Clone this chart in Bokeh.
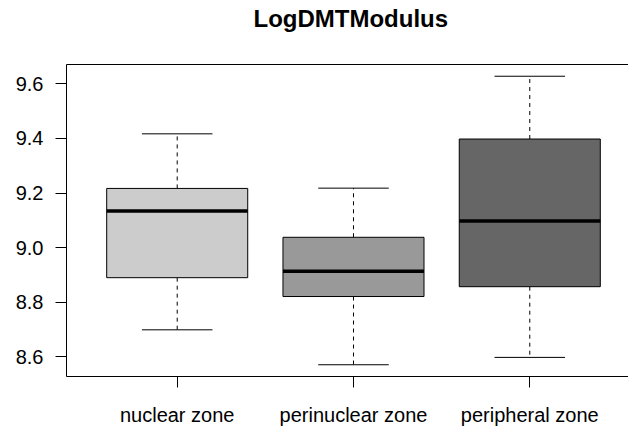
from bokeh.plotting import figure
from bokeh.models import ColumnDataSource, LinearAxis, FixedTicker, Range1d, Title, PrintfTickFormatter
from bokeh.embed import file_html
from bokeh.resources import INLINE

# ---- data ----
categories = ["nuclear zone", "perinuclear zone", "peripheral zone"]
positions = [1, 2, 3]
lower_whisker = [8.699, 8.571, 8.598]
q1 = [8.890, 8.821, 8.857]
median = [9.134, 8.914, 9.098]
q3 = [9.217, 9.038, 9.398]
upper_whisker = [9.417, 9.218, 9.628]
fill_colors = ["#CCCCCC", "#999999", "#666666"]
y_ticks = [8.6, 8.8, 9.0, 9.2, 9.4, 9.6]
title_text = "LogDMTModulus"

BOX_HALF = 0.4
CAP_HALF = 0.2
FONT = "Liberation Sans"

src = ColumnDataSource(dict(
    x=positions,
    left=[x - BOX_HALF for x in positions],
    right=[x + BOX_HALF for x in positions],
    cap_l=[x - CAP_HALF for x in positions],
    cap_r=[x + CAP_HALF for x in positions],
    lo=lower_whisker, q1=q1, med=median, q3=q3, hi=upper_whisker,
    color=fill_colors,
))

p = figure(width=628, height=428,
           x_range=Range1d(0.372, 3.560), y_range=Range1d(8.528, 9.671),
           output_backend="svg", toolbar_location=None,
           x_axis_type=None, y_axis_type=None,
           min_border_left=66, min_border_right=0,
           min_border_top=64, min_border_bottom=52)
p.outline_line_color = None
p.background_fill_color = "white"
p.border_fill_color = "white"

def style_axis(ax):
    ax.axis_line_color = "black"
    ax.axis_line_width = 1
    ax.major_tick_line_color = "black"
    ax.major_tick_in = 0
    ax.major_tick_out = 11
    ax.minor_tick_in = 0
    ax.minor_tick_out = 0
    ax.major_label_text_font = FONT
    ax.major_label_text_font_size = "20px"
    ax.major_label_text_color = "black"

xaxis = LinearAxis(ticker=FixedTicker(ticks=positions),
                   major_label_overrides={pos: cat for pos, cat in zip(positions, categories)})
style_axis(xaxis)
xaxis.major_label_standoff = 16
p.add_layout(xaxis, "below")

yaxis = LinearAxis(ticker=FixedTicker(ticks=y_ticks), formatter=PrintfTickFormatter(format="%.1f"))
style_axis(yaxis)
yaxis.major_label_standoff = 12
p.add_layout(yaxis, "left")

# top border (no ticks); an invisible blank axis label gives the gap below the title
top = LinearAxis(ticker=FixedTicker(ticks=[]))
top.axis_line_color = "black"
top.major_tick_out = 0
top.major_tick_in = 0
top.minor_tick_out = 0
top.major_label_text_font_size = "0px"
top.major_label_standoff = 0
top.axis_label = " "
top.axis_label_standoff = 19
top.axis_label_text_font_size = "10px"
top.axis_label_text_alpha = 0
p.add_layout(top, "above")

p.title = Title(text=title_text, align="left", offset=187, standoff=0,
                text_font=FONT, text_font_size="24px", text_font_style="bold",
                text_color="black")

# whiskers
p.segment(x0="x", y0="q3", x1="x", y1="hi", source=src, line_color="black", line_width=1, line_dash="4 4")
p.segment(x0="x", y0="q1", x1="x", y1="lo", source=src, line_color="black", line_width=1, line_dash="4 4")
# caps
p.segment(x0="cap_l", y0="hi", x1="cap_r", y1="hi", source=src, line_color="black", line_width=1)
p.segment(x0="cap_l", y0="lo", x1="cap_r", y1="lo", source=src, line_color="black", line_width=1)
# boxes
p.quad(left="left", right="right", bottom="q1", top="q3", source=src,
       fill_color="color", line_color="black", line_width=1)
# medians
p.segment(x0="left", y0="med", x1="right", y1="med", source=src, line_color="black", line_width=3.5)

open("out.html", "w").write(file_html(p, INLINE))
